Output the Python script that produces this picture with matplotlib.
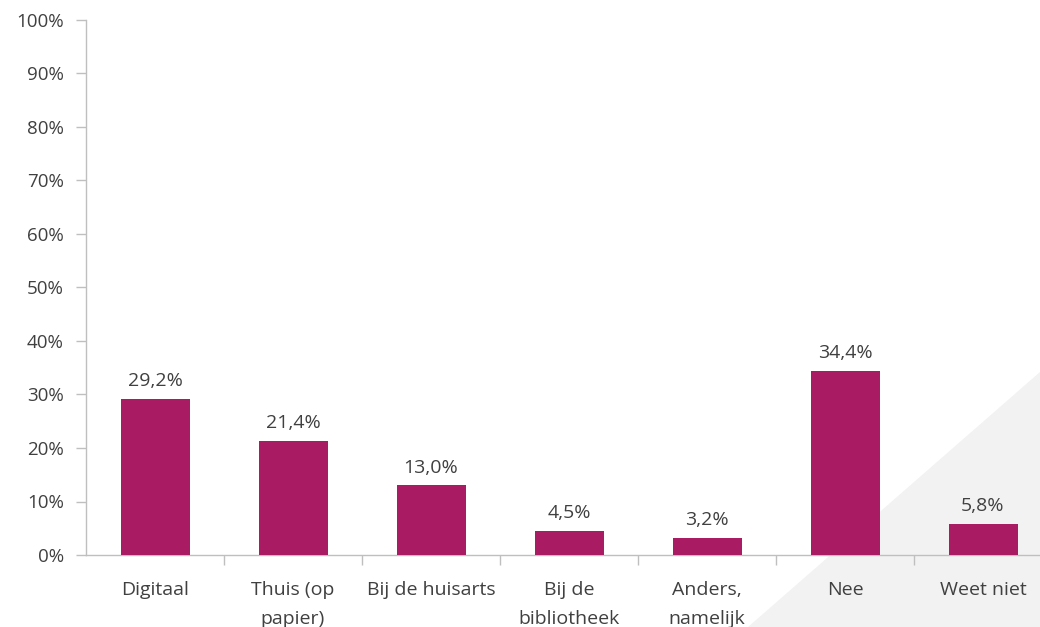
import numpy as np
import matplotlib
matplotlib.use('Agg')
import matplotlib.pyplot as plt
from matplotlib.patches import Polygon

categories = ['Digitaal', 'Thuis (op\npapier)', 'Bij de huisarts', 'Bij de\nbibliotheek',
              'Anders,\nnamelijk', 'Nee', 'Weet niet']
values = [29.2, 21.4, 13.0, 4.5, 3.2, 34.4, 5.8]
yticks = [0, 10, 20, 30, 40, 50, 60, 70, 80, 90, 100]

bar_color = '#A91C64'
text_color = '#404040'
axis_color = '#BFBFBF'

plt.rcParams['font.family'] = ['Open Sans', 'DejaVu Sans']

fig = plt.figure(figsize=(10.4, 6.27), dpi=100)

# light grey triangle in the background, bottom right
tri = Polygon([(748/1040, 0), (1.0, (627-372)/627), (1.0, 0)], closed=True,
              transform=fig.transFigure, facecolor='#F2F2F2', edgecolor='none', zorder=-5)
fig.patches.append(tri)

ax = fig.add_axes([86/1040, 72/627, 966/1040, 535/627])
ax.patch.set_alpha(0)
ax.set_zorder(1)

x = np.arange(len(categories))
ax.bar(x, values, width=0.5, color=bar_color, zorder=3)
for xi, v in zip(x, values):
    ax.text(xi, v + 1.6, ('%.1f%%' % v).replace('.', ','), ha='center', va='bottom',
            fontsize=14, color=text_color)

ax.set_xlim(-0.5, len(categories) - 0.5)
ax.set_ylim(0, 100)
ax.set_yticks(yticks)
ax.set_yticklabels(['%d%%' % t for t in yticks], fontsize=13.5, color=text_color)

# category labels in the middle, tick marks between the categories
ax.set_xticks(x)
ax.set_xticklabels(categories, fontsize=14, color=text_color, linespacing=1.75, va='top')
ax.tick_params(axis='x', length=0, pad=19)
ax.set_xticks(np.arange(0.5, len(categories) - 0.5, 1), minor=True)
ax.tick_params(axis='x', which='minor', length=7.5, color=axis_color, width=1)
ax.tick_params(axis='y', length=7, color=axis_color, width=1, pad=9)

for s in ['top', 'right']:
    ax.spines[s].set_visible(False)
for s in ['left', 'bottom']:
    ax.spines[s].set_color(axis_color)
    ax.spines[s].set_linewidth(1)

plt.savefig('out.png', dpi=100)
plt.close()
